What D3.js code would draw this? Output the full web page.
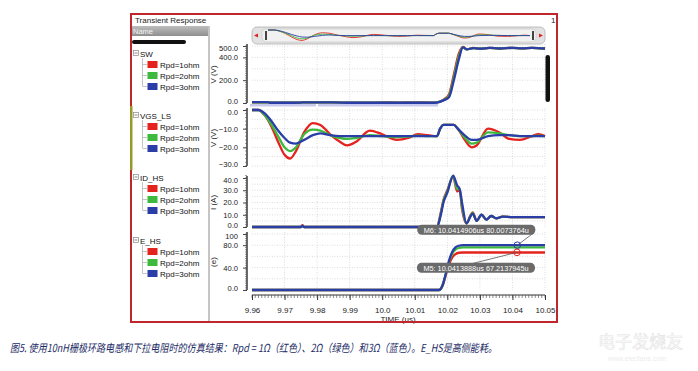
<!DOCTYPE html>
<html>
<head>
<meta charset="utf-8">
<script src="https://cdn.jsdelivr.net/npm/d3@7"></script>
<style>
body { margin: 0; background: #fff; }
text { font-family: "Liberation Sans", Arial, sans-serif; }
</style>
</head>
<body>
<svg id="chart"></svg>
<script>
var width = 698, height = 371

// ---- data ----
var seriesNames = ["Rpd=1ohm", "Rpd=2ohm", "Rpd=3ohm"]
var seriesColors = ["#e5231e", "#3dba3d", "#2b3ea8"]
var timeTicks = [9.96, 9.97, 9.98, 9.99, 10.0, 10.01, 10.02, 10.03, 10.04, 10.05]
var timeTickLabels = ["9.96", "9.97", "9.98", "9.99", "10.0", "10.01", "10.02", "10.03", "10.04", "10.05"]

// SW (V)
var swTime = [9.96, 9.965, 9.9655, 9.97, 9.975, 9.9755, 9.98, 9.985, 9.99, 9.995, 10.0, 10.005, 10.01, 10.015, 10.0168, 10.019, 10.0205, 10.022, 10.0235, 10.0248, 10.026, 10.028, 10.03, 10.033, 10.036, 10.04, 10.043, 10.046, 10.05]
var swR = [6, 6, 2, 2, 4, 6, 6, 6, 2, 2, 6, 4, 6, 4, 6, 32, 75, 250, 430, 492, 472, 484, 476, 484, 478, 484, 480, 484, 478]
var swG = [6, 6, 2, 2, 4, 6, 6, 6, 2, 2, 4, 4, 4, 3, 5, 28, 62, 225, 405, 490, 470, 482, 476, 484, 478, 484, 480, 484, 478]
var swB = [8, 8, 2, 2, 4, 6, 6, 6, 2, 2, 2, 2, 2, 2, 4, 25, 50, 200, 380, 488, 470, 482, 476, 484, 478, 484, 480, 484, 478]

// VGS_LS (V)
var vgsTime = [9.96, 9.962, 9.964, 9.966, 9.968, 9.970, 9.9717, 9.9735, 9.976, 9.9787, 9.981, 9.984, 9.987, 9.9892, 9.992, 9.9962, 10.0, 10.0045, 10.008, 10.011, 10.014, 10.0168, 10.0178, 10.0188, 10.022, 10.0232, 10.025, 10.0275, 10.029, 10.0325, 10.036, 10.039, 10.0423, 10.046, 10.048, 10.05]
var vgsR = [0, 0, -3, -9, -17, -24, -26, -22, -12, -7, -8, -13, -17, -19, -17, -11, -13, -16, -15, -13, -13.5, -14, -10, -8, -8, -10, -15, -20, -19, -10, -12, -15.5, -16, -14, -13, -14]
var vgsG = [0, 0, -3, -8, -14, -20, -22, -20, -13, -10.5, -11, -13.5, -15, -15.5, -15, -13.5, -14, -14.5, -14.2, -13.8, -14, -14, -10, -8, -8, -10, -14, -18, -17.5, -12, -12.5, -13.5, -14, -14, -13.8, -14]
var vgsB = [0, 0, -2, -6, -11, -15, -17.5, -18, -16, -13.5, -12.5, -13.5, -14, -14, -14, -14, -14, -14, -14, -14, -14, -14, -10, -8, -8, -10, -13, -16, -16, -14, -13.5, -13.5, -14, -14, -14, -14]

// ID_HS (A)
var idTime = [9.96, 9.975, 9.9755, 9.976, 9.99, 10.0, 10.016, 10.0168, 10.018, 10.0188, 10.020, 10.0218, 10.023, 10.0238, 10.0245, 10.0259, 10.027, 10.0278, 10.029, 10.0305, 10.032, 10.0335, 10.035, 10.037, 10.04, 10.045, 10.05]
var idR = [0, 0, 1.5, 0, 0, 0, 0, 0, 12, 22, 30, 41, 29, 30, 15, 3, 9, 12, 5, 10, 6, 9, 7, 8.5, 8, 8, 8]
var idG = [0, 0, 1, 0, 0, 0, 0, 0, 11, 21, 29, 42, 31, 31, 17, 3, 8.5, 11.5, 5, 10, 6, 9, 7, 8.5, 8, 8, 8]
var idB = [0, 0, 1, 0, 0, 0, 0, 0, 10, 20, 28, 42, 34, 31, 20, 3, 8, 11, 5, 10, 6, 9, 7, 8.5, 8, 8, 8]

// E_HS
var eTime = [9.96, 10.0, 10.0175, 10.0185, 10.0195, 10.0205, 10.0215, 10.0225, 10.0235, 10.0248, 10.027, 10.05]
var eR = [0, 0, 0, 7, 26, 45, 58, 64, 66.5, 67, 67, 67]
var eG = [0, 0, 0, 8, 28, 50, 65, 72, 75, 76, 76, 76]
var eB = [0, 0, 0, 8, 28, 52, 68, 76, 79, 80, 80, 80]

// markers
var markerNames = ["M6", "M5"]
var markerTimes = [10.0414906, 10.0413888]
var markerValues = [80.0073764, 67.2137945]
var markerSeries = [2, 0]
var markerLabels = ["M6: 10.0414906us 80.0073764u", "M5: 10.0413888us 67.2137945u"]

var caption = "图5. 使用10nH栅极环路电感和下拉电阻时的仿真结果：Rpd = 1Ω（红色）、2Ω（绿色）和3Ω（蓝色）。E_HS是高侧能耗。"

// ---- layout ----
var panels = [
    { name: "SW", unit: "V (V)", time: swTime, values: [swR, swG, swB], domain: [0, 500], top: 46, bottom: 103,
      ticks: [0, 200, 400, 500], fmt: d3.format(".1f"), grid: d3.range(100, 501, 100), minor: d3.range(0, 501, 20), legendY: 54 },
    { name: "VGS_LS", unit: "V (V)", time: vgsTime, values: [vgsR, vgsG, vgsB], domain: [-30, 0], top: 110, bottom: 166,
      ticks: [0, -10, -20, -30], fmt: d3.format(".1f"), grid: d3.range(-30, 1, 5), minor: d3.range(-30, 1, 2), legendY: 116 },
    { name: "ID_HS", unit: "I (A)", time: idTime, values: [idR, idG, idB], domain: [0, 40], top: 178, bottom: 227,
      ticks: [0, 10, 20, 30, 40], fmt: d3.format(".1f"), grid: d3.range(5, 41, 5), minor: d3.range(0, 43, 2), legendY: 178 },
    { name: "E_HS", unit: "(e)", time: eTime, values: [eR, eG, eB], domain: [0, 100], top: 234, bottom: 290,
      ticks: [0, 40, 80, 100], fmt: function(d) { return d === 100 ? "100" : d3.format(".1f")(d) }, grid: d3.range(20, 101, 20), minor: d3.range(0, 101, 4), legendY: 241 }
]

var svg = d3.select("#chart")
    .attr("width", width)
    .attr("height", height)

var x = d3.scaleLinear()
    .domain([9.96, 10.05])
    .range([252, 545])

// frame
svg.append("rect")
    .attr("x", 131).attr("y", 14)
    .attr("width", 426).attr("height", 308)
    .attr("fill", "#fff")
    .attr("stroke", "#c0272d")
    .attr("stroke-width", 2)

svg.append("text").attr("x", 135).attr("y", 23)
    .style("font-size", "8px").attr("fill", "#222")
    .text("Transient Response")
svg.append("text").attr("x", 551).attr("y", 23)
    .style("font-size", "8px").attr("fill", "#222")
    .text("1")

// name panel
var grad = svg.append("defs").append("linearGradient")
    .attr("id", "hdr").attr("x1", 0).attr("y1", 0).attr("x2", 0).attr("y2", 1)
grad.append("stop").attr("offset", "0%").attr("stop-color", "#bdbdbd")
grad.append("stop").attr("offset", "100%").attr("stop-color", "#8f8f8f")
svg.append("rect").attr("x", 132).attr("y", 26).attr("width", 76).attr("height", 10).attr("fill", "url(#hdr)")
svg.append("text").attr("x", 133).attr("y", 34)
    .style("font-size", "7.5px").attr("fill", "#f4f4f4")
    .text("Name")
svg.append("rect").attr("x", 132).attr("y", 40).attr("width", 54).attr("height", 4).attr("rx", 2).attr("fill", "#111")
svg.append("line").attr("x1", 209).attr("x2", 209).attr("y1", 26).attr("y2", 321)
    .attr("stroke", "#8a8a8a").attr("stroke-width", 1)
svg.append("rect").attr("x", 130).attr("y", 106).attr("width", 2.5).attr("height", 64).attr("fill", "#9a9a2a")

panels.forEach(function(p) {
    var g = svg.append("g")
    var ly = p.legendY
    g.append("rect").attr("x", 133.5).attr("y", ly - 3.5).attr("width", 5).attr("height", 5)
        .attr("fill", "#fff").attr("stroke", "#888").attr("stroke-width", 0.7)
    g.append("line").attr("x1", 134.5).attr("x2", 137.5).attr("y1", ly - 1).attr("y2", ly - 1)
        .attr("stroke", "#555").attr("stroke-width", 0.7)
    g.append("text").attr("x", 140).attr("y", ly + 3)
        .style("font-size", "8px").attr("fill", "#111")
        .text(p.name)
    g.append("line").attr("x1", 142.5).attr("x2", 142.5).attr("y1", ly + 4).attr("y2", ly + 32)
        .attr("stroke", "#aaa").attr("stroke-width", 0.7)
    seriesNames.forEach(function(s, i) {
        var iy = ly + 10.5 + i * 11
        g.append("line").attr("x1", 142.5).attr("x2", 147).attr("y1", iy).attr("y2", iy)
            .attr("stroke", "#aaa").attr("stroke-width", 0.7)
        g.append("rect").attr("x", 147.5).attr("y", iy - 3.5).attr("width", 10).attr("height", 7)
            .attr("fill", seriesColors[i])
        g.append("text").attr("x", 160).attr("y", iy + 3)
            .style("font-size", "8px").attr("fill", "#111")
            .text(s)
    })
})

// overview widget
svg.append("rect").attr("x", 252).attr("y", 27).attr("width", 293).attr("height", 17).attr("rx", 5)
    .attr("fill", "#e2e2e2").attr("stroke", "#b0b0b0").attr("stroke-width", 0.8)
svg.append("rect").attr("x", 262).attr("y", 29).attr("width", 274).attr("height", 13).attr("rx", 4)
    .attr("fill", "#f1f1f1").attr("stroke", "#c4c4c4").attr("stroke-width", 0.6)
;[265, 532].forEach(function(hx) {
    svg.append("rect").attr("x", hx).attr("y", 31).attr("width", 2).attr("height", 9).attr("fill", "#444")
})
svg.append("path").attr("d", "M254,35.5 L258,33.5 L258,37.5 Z").attr("fill", "#d22")
svg.append("path").attr("d", "M543,35.5 L539,33.5 L539,37.5 Z").attr("fill", "#d22")
var xMini = d3.scaleLinear().domain([9.96, 10.05]).range([268, 530])
var yMini = d3.scaleLinear().domain([-30, 0]).range([42, 30])
var miniLine = d3.line().x(function(d) { return xMini(d[0]) }).y(function(d) { return yMini(d[1]) }).curve(d3.curveMonotoneX)
;[vgsR, vgsG, vgsB].forEach(function(vals, i) {
    svg.append("path")
        .datum(vgsTime.map(function(t, k) { return [t, vals[k]] }))
        .attr("d", miniLine)
        .attr("fill", "none")
        .attr("stroke", seriesColors[i])
        .attr("stroke-width", 0.9)
})

// selection strip under SW
svg.append("rect").attr("x", 250).attr("y", 104).attr("width", 66).attr("height", 2.5).attr("fill", "#c9c9ee")
svg.append("rect").attr("x", 318).attr("y", 104).attr("width", 120).attr("height", 2.5).attr("fill", "#c9c9ee")

// panels
panels.forEach(function(p) {
    var y = d3.scaleLinear().domain(p.domain).range([p.bottom, p.top])
    var g = svg.append("g")

    // grid
    g.selectAll(".vgrid").data(timeTicks.slice(1))
        .enter().append("line")
        .attr("x1", function(d) { return x(d) }).attr("x2", function(d) { return x(d) })
        .attr("y1", p.top - 2).attr("y2", p.bottom)
        .attr("stroke", "#cfcfcf").attr("stroke-width", 0.7).attr("stroke-dasharray", "1,1.5")
    g.selectAll(".hgrid").data(p.grid)
        .enter().append("line")
        .attr("x1", x(9.96)).attr("x2", x(10.05))
        .attr("y1", function(d) { return y(d) }).attr("y2", function(d) { return y(d) })
        .attr("stroke", "#cfcfcf").attr("stroke-width", 0.7).attr("stroke-dasharray", "1,1.5")

    // y axis
    var yAxis = d3.axisLeft(y).tickValues(p.ticks).tickFormat(p.fmt).tickSize(4).tickPadding(5)
    var ax = g.append("g").attr("transform", "translate(247,0)").call(yAxis)
    ax.select(".domain").attr("stroke", "#444").attr("stroke-width", 1.6)
        .attr("d", "M0," + (p.top - 2) + "V" + p.bottom)
    ax.selectAll(".tick line").attr("stroke", "#444")
    ax.selectAll(".tick text").style("font-size", "7.6px").attr("fill", "#222")
        .style("font-family", "'Liberation Sans', Arial, sans-serif")
        // nudge end labels apart where panels meet
        .attr("dy", function(d) {
            if (d === p.domain[0]) return "0.05em"
            if (d === p.domain[1]) return "0.55em"
            return "0.32em"
        })
    g.selectAll(".minor").data(p.minor)
        .enter().append("line")
        .attr("x1", 245).attr("x2", 247)
        .attr("y1", function(d) { return y(d) }).attr("y2", function(d) { return y(d) })
        .attr("stroke", "#555").attr("stroke-width", 0.6)

    g.append("text")
        .attr("transform", "translate(216," + ((p.top + p.bottom) / 2) + ") rotate(-90)")
        .attr("text-anchor", "middle")
        .style("font-size", "8px").attr("fill", "#222")
        .text(p.unit)

    var line = d3.line()
        .x(function(d) { return x(d[0]) })
        .y(function(d) { return y(d[1]) })
        .curve(d3.curveMonotoneX)
    p.values.forEach(function(vals, i) {
        g.append("path")
            .datum(p.time.map(function(t, k) { return [t, vals[k]] }))
            .attr("d", line)
            .attr("fill", "none")
            .attr("stroke", seriesColors[i])
            .attr("stroke-width", 2.3)
            .attr("stroke-linejoin", "round")
    })
    p.y = y
})

// right scrollbar
svg.append("rect").attr("x", 545.5).attr("y", 55).attr("width", 4.5).attr("height", 47).attr("rx", 2.2).attr("fill", "#111")

// markers on E_HS
var eY = panels[3].y
markerNames.forEach(function(m, i) {
    var mx = x(markerTimes[i]), my = eY(markerValues[i])
    var by = i === 0 ? my - 15 : my + 16
    svg.append("line")
        .attr("x1", i === 0 ? mx + 16 : mx - 52).attr("y1", i === 0 ? by + 3 : by - 3)
        .attr("x2", mx).attr("y2", my)
        .attr("stroke", "#555").attr("stroke-width", 0.8)
    svg.append("rect").attr("x", mx - 100).attr("y", by - 5.5).attr("width", 118).attr("height", 10).attr("rx", 4.5)
        .attr("fill", "#6a6a6a")
    svg.append("text").attr("x", mx - 41).attr("y", by + 2.5)
        .attr("text-anchor", "middle")
        .style("font-size", "7.3px").attr("fill", "#fff")
        .text(markerLabels[i])
    svg.append("circle").attr("cx", mx).attr("cy", my).attr("r", 3.3)
        .attr("fill", "none").attr("stroke", seriesColors[markerSeries[i]]).attr("stroke-width", 1)
})

// x axis
var xAxis = d3.axisBottom(x).tickValues(timeTicks)
    .tickFormat(function(d, i) { return timeTickLabels[i] })
    .tickSize(5).tickPadding(7)
var xa = svg.append("g").attr("transform", "translate(0,295)").call(xAxis)
xa.select(".domain").attr("stroke", "#333").attr("stroke-width", 1.2).attr("d", "M252,0H545")
xa.selectAll(".tick line").attr("stroke", "#333")
xa.selectAll(".tick text").style("font-size", "8px").attr("fill", "#222")
    .style("font-family", "'Liberation Sans', Arial, sans-serif")
svg.selectAll(".xminor").data(d3.range(0, 91))
    .enter().append("line")
    .attr("x1", function(d) { return x(9.96 + d * 0.001) }).attr("x2", function(d) { return x(9.96 + d * 0.001) })
    .attr("y1", 295).attr("y2", 298)
    .attr("stroke", "#444").attr("stroke-width", 0.6)
svg.append("text").attr("x", 398).attr("y", 321.5)
    .attr("text-anchor", "middle")
    .style("font-size", "8px").attr("fill", "#222")
    .text("TIME (us)")

// redraw bottom frame edge over the axis title
svg.append("line").attr("x1", 130).attr("x2", 558).attr("y1", 322).attr("y2", 322)
    .attr("stroke", "#c0272d").attr("stroke-width", 2)

// caption
svg.append("text")
    .attr("x", 10).attr("y", 352)
    .attr("textLength", 487).attr("lengthAdjust", "spacingAndGlyphs")
    .style("font-family", "'Noto Sans CJK SC', sans-serif")
    .style("font-size", "11px").style("font-style", "italic")
    .attr("fill", "#1d2c66")
    .text(caption)

// faint watermark
svg.append("text").attr("x", 598).attr("y", 348)
    .style("font-family", "'Noto Sans CJK SC', sans-serif").style("font-size", "17px")
    .attr("fill", "none").attr("stroke", "#e4e4e4").attr("stroke-width", 0.6).text("电子发烧友")
svg.append("text").attr("x", 608).attr("y", 361)
    .style("font-size", "7px").attr("fill", "#ececec").text("www.elecfans.com")
</script>
</body>
</html>
